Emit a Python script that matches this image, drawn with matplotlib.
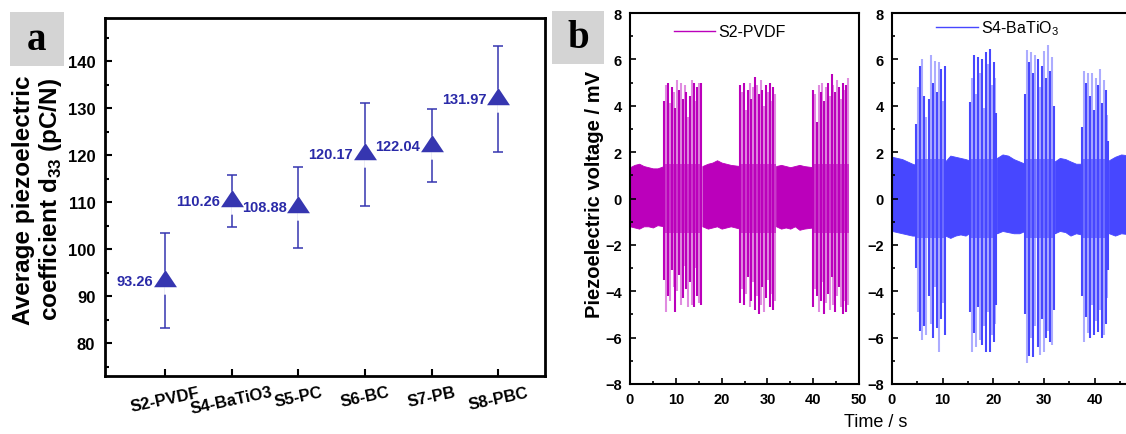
import matplotlib.pyplot as plt
from matplotlib.patches import Rectangle
from matplotlib.ticker import MultipleLocator

plt.rcParams['font.family'] = ['Liberation Sans', 'DejaVu Sans']
plt.rcParams['mathtext.fontset'] = 'custom'
plt.rcParams['mathtext.rm'] = 'Liberation Sans'
plt.rcParams['mathtext.bf'] = 'Liberation Sans:bold'

# ---- panel a: average d33 per sample
samples = ['S2-PVDF', 'S4-BaTiO3', 'S5-PC', 'S6-BC', 'S7-PB', 'S8-PBC']
d33_mean = [93.26, 110.26, 108.88, 120.17, 122.04, 131.97]
d33_err = [10.1, 5.6, 8.7, 11.0, 7.7, 11.2]

# ---- panel b: S2-PVDF voltage trace (quiet envelope + burst spikes)
pvdf_quiet_t = [[0, 1, 2, 3, 4, 5, 6, 7.4],
                [15.8, 17, 18, 19, 20, 21, 22, 24.0],
                [31.9, 33, 34, 35, 36, 37, 38, 39.9]]
pvdf_quiet_top = [[1.35, 1.45, 1.5, 1.4, 1.35, 1.3, 1.3, 1.4],
                  [1.4, 1.5, 1.55, 1.65, 1.55, 1.5, 1.45, 1.4],
                  [1.4, 1.45, 1.4, 1.35, 1.4, 1.45, 1.4, 1.35]]
pvdf_quiet_bot = [[-1.2, -1.25, -1.3, -1.2, -1.2, -1.25, -1.15, -1.2],
                  [-1.2, -1.3, -1.25, -1.2, -1.3, -1.25, -1.2, -1.3],
                  [-1.2, -1.3, -1.25, -1.3, -1.2, -1.35, -1.3, -1.25]]
pvdf_bursts = [(7.4, 15.8), (24.0, 31.9), (39.9, 47.8)]
pvdf_core = 1.5
pvdf_spike_t = [
    [7.5, 7.9, 8.3, 8.7, 9.1, 9.5, 9.9, 10.3, 10.7, 11.1, 11.5, 11.9, 12.3, 12.7,
     13.1, 13.5, 13.9, 14.3, 14.7, 15.1, 15.5],
    [24.1, 24.5, 24.9, 25.3, 25.7, 26.1, 26.5, 26.9, 27.3, 27.7, 28.1, 28.5, 28.9,
     29.3, 29.7, 30.1, 30.5, 30.9, 31.3, 31.7],
    [40.0, 40.4, 40.8, 41.2, 41.6, 42.0, 42.4, 42.8, 43.2, 43.6, 44.0, 44.4, 44.8,
     45.2, 45.6, 46.0, 46.4, 46.8, 47.2, 47.6]]
pvdf_spike_top = [
    [4.2, 4.9, 5.0, 4.1, 4.8, 4.6, 3.9, 5.1, 4.7, 5.0, 4.3, 4.9, 4.6, 3.5, 4.4,
     5.1, 5.0, 4.2, 4.8, 5.0, 5.0],
    [4.9, 4.6, 5.0, 3.8, 4.7, 5.0, 4.3, 4.8, 5.25, 4.9, 4.5, 5.1, 4.7, 4.0, 4.9,
     4.6, 5.0, 4.2, 4.8, 4.5],
    [4.7, 4.5, 3.3, 4.9, 4.6, 5.0, 4.2, 4.8, 5.0, 4.4, 5.35, 4.9, 4.6, 5.1, 4.8,
     4.3, 5.0, 4.7, 4.9, 5.2]]
pvdf_spike_bot = [
    [-3.5, -4.9, -4.2, -4.4, -3.1, -3.8, -4.9, -4.0, -3.3, -4.6, -4.3, -2.9, -3.9,
     -4.7, -3.6, -4.6, -4.7, -3.0, -4.2, -4.5, -4.6],
    [-4.5, -3.9, -4.6, -4.1, -3.4, -4.7, -4.4, -3.6, -4.8, -4.2, -5.0, -4.6, -3.8,
     -4.9, -4.3, -3.5, -4.7, -4.1, -4.8, -4.4],
    [-4.7, -3.9, -4.2, -4.9, -4.4, -3.6, -5.0, -4.5, -4.1, -4.8, -3.4, -4.6, -4.9,
     -4.2, -3.8, -4.7, -5.0, -4.4, -4.9, -4.6]]

# ---- panel b: S4-BaTiO3 voltage trace
bto_quiet_t = [[0, 1, 2, 3, 4, 4.7],
               [10.5, 11.5, 12.5, 13.5, 14.5, 15.2],
               [20.7, 21.8, 22.9, 24.0, 25.1, 26.2],
               [32.1, 33.1, 34.2, 35.2, 36.3, 37.3],
               [42.8, 44.0, 45.2, 47.0]]
bto_quiet_top = [[1.8, 1.75, 1.7, 1.6, 1.5, 1.45],
                 [1.6, 1.85, 1.8, 1.75, 1.7, 1.65],
                 [1.75, 1.9, 1.85, 1.7, 1.6, 1.5],
                 [1.6, 1.75, 1.7, 1.6, 1.5, 1.5],
                 [1.65, 1.8, 1.9, 1.85]]
bto_quiet_bot = [[-1.4, -1.45, -1.5, -1.55, -1.6, -1.6],
                 [-1.6, -1.7, -1.6, -1.55, -1.6, -1.5],
                 [-1.5, -1.4, -1.45, -1.5, -1.5, -1.4],
                 [-1.5, -1.4, -1.45, -1.6, -1.5, -1.55],
                 [-1.5, -1.6, -1.5, -1.55]]
bto_bursts = [(4.7, 10.5), (15.2, 20.7), (26.2, 32.1), (37.3, 42.8)]
bto_core = 1.7
bto_spike_t = [
    [4.8, 5.2, 5.6, 6.0, 6.4, 6.8, 7.2, 7.6, 8.0, 8.4, 8.8, 9.2, 9.6, 10.0, 10.4],
    [15.3, 15.7, 16.1, 16.5, 16.9, 17.3, 17.7, 18.1, 18.5, 18.9, 19.3, 19.7, 20.1,
     20.4, 20.6],
    [26.3, 26.7, 27.1, 27.5, 27.9, 28.3, 28.7, 29.1, 29.5, 29.9, 30.3, 30.7, 31.1,
     31.5, 31.9],
    [37.4, 37.8, 38.2, 38.6, 39.0, 39.4, 39.8, 40.2, 40.6, 41.0, 41.4, 41.8, 42.2,
     42.5, 42.7]]
bto_spike_top = [
    [3.2, 4.8, 5.7, 6.0, 4.4, 3.5, 4.3, 6.2, 5.0, 5.95, 4.6, 5.9, 5.6, 4.2, 5.7],
    [4.15, 5.2, 6.2, 4.5, 6.1, 5.4, 6.0, 3.9, 6.3, 5.8, 6.45, 4.9, 5.9, 5.2, 3.7],
    [4.5, 6.4, 5.9, 6.3, 5.4, 6.2, 6.0, 4.8, 5.7, 6.35, 5.2, 6.6, 5.5, 6.1, 4.0],
    [3.1, 5.5, 5.0, 5.4, 4.4, 5.4, 3.8, 5.2, 4.9, 5.6, 4.1, 5.1, 4.7, 3.6, 2.5]]
bto_spike_bot = [
    [-3.0, -4.9, -5.7, -6.1, -5.5, -5.9, -4.2, -5.4, -6.0, -3.8, -5.6, -6.6, -5.2,
     -4.5, -5.9],
    [-4.9, -6.6, -5.8, -6.4, -4.7, -6.1, -6.3, -5.5, -6.6, -4.9, -6.6, -5.9, -6.2,
     -5.4, -4.6],
    [-5.0, -7.1, -6.8, -6.0, -6.85, -5.5, -6.4, -6.75, -5.2, -6.6, -6.0, -5.7, -6.2,
     -6.3, -4.8],
    [-4.2, -6.2, -5.1, -5.8, -6.0, -4.6, -5.9, -5.3, -5.75, -4.8, -6.0, -5.9, -5.4,
     -4.3, -3.1]]

W, H = 1126, 435
fig = plt.figure(figsize=(W / 100, H / 100), dpi=100)


def px_axes(left, top, right, bottom):
    return fig.add_axes([left / W, 1 - bottom / H, (right - left) / W, (bottom - top) / H])


# ================= panel a =================
ax = px_axes(105, 19, 545, 377)
xs = list(range(1, len(samples) + 1))
blue = '#3636b0'
ax.errorbar(xs, d33_mean, yerr=d33_err, fmt='none', ecolor=blue, elinewidth=1.1,
            capsize=3.3, capthick=1.1, zorder=2)
tri = [(-1, -0.5), (1, -0.5), (0, 1)]
mask = [(-1, -0.5), (-0.12, -0.5), (-0.12, -1.15), (0.12, -1.15), (0.12, -0.5),
        (1, -0.5), (0, 1)]
ax.plot(xs, d33_mean, ls='none', marker=mask, ms=16.5 * 1.15, mfc='white', mec='none',
        zorder=3)
ax.plot(xs, d33_mean, ls='none', marker=tri, ms=16.5, mfc=blue, mec='none', zorder=4)
for x, v in zip(xs, d33_mean):
    ax.annotate(f'{v:.2f}', (x, v), xytext=(-8.5, 0), textcoords='offset points',
                ha='right', va='center', color='#2a2aa8', fontsize=10.5,
                fontweight='bold')

ax.set_xlim(0.1, 6.7)
ax.set_ylim(73, 149.2)
ax.set_xticks(xs)
ax.set_xticklabels(samples, rotation=12, fontsize=12, fontweight='bold')
ax.yaxis.set_minor_locator(MultipleLocator(5))
ax.set_yticks(range(80, 141, 10))
for lab in ax.get_yticklabels():
    lab.set_fontweight('bold')
    lab.set_fontsize(12)
ax.tick_params(which='both', direction='in', width=1.5, top=False, right=False)
ax.tick_params(which='major', length=5, pad=7)
ax.tick_params(which='minor', length=3)
ax.tick_params(axis='x', pad=6)
for sp in ax.spines.values():
    sp.set_linewidth(2)

fig.text(38 / W, 1 - 200 / H, 'Average piezoelectric\ncoefficient d$_{\\mathbf{33}}$ (pC/N)',
         rotation=90, ha='center', va='center', multialignment='center',
         fontsize=17.5, fontweight='bold', linespacing=1.1)

# ================= panel b =================
magenta = '#bb00bb'
bluev = '#4747ff'


def draw_trace(ax, qt, qtop, qbot, bursts, core, st, stop, sbot, color, label):
    for t, top, bot in zip(qt, qtop, qbot):
        ax.fill_between(t, bot, top, color=color, lw=0.6, edgecolor=color)
    for (a, b), ts, tops, bots in zip(bursts, st, stop, sbot):
        ax.fill_between([a, b], [-core, -core], [core, core], color=color, alpha=0.6,
                        lw=0)
        for i, (t, tp, bt) in enumerate(zip(ts, tops, bots)):
            ax.vlines(t, bt, tp, color=color, lw=1.5, alpha=1.0 if i % 2 == 0 else 0.45)
    ax.plot([], [], color=color, lw=1.0, label=label)
    ax.set_xlim(0, 50)
    ax.set_ylim(-8, 8)
    ax.xaxis.set_major_locator(MultipleLocator(10))
    ax.xaxis.set_minor_locator(MultipleLocator(5))
    ax.yaxis.set_major_locator(MultipleLocator(2))
    ax.yaxis.set_minor_locator(MultipleLocator(1))
    ax.tick_params(which='both', direction='in', width=1.2, labelsize=10.5)
    ax.tick_params(which='major', length=4.5, pad=6)
    ax.tick_params(which='minor', length=2.5)
    for lab in ax.get_xticklabels() + ax.get_yticklabels():
        lab.set_fontweight('bold')
    for sp in ax.spines.values():
        sp.set_linewidth(1.5)


b1 = px_axes(630, 14, 859, 385)
draw_trace(b1, pvdf_quiet_t, pvdf_quiet_top, pvdf_quiet_bot, pvdf_bursts, pvdf_core,
           pvdf_spike_t, pvdf_spike_top, pvdf_spike_bot, magenta, 'S2-PVDF')
b1.legend(loc='center left', bbox_to_anchor=(0.19, 0.949), frameon=False, fontsize=11.5,
          handlelength=2.6, handletextpad=0.2, borderpad=0, borderaxespad=0)

b2 = px_axes(892, 14, 892 + 253.5, 385)
draw_trace(b2, bto_quiet_t, bto_quiet_top, bto_quiet_bot, bto_bursts, bto_core,
           bto_spike_t, bto_spike_top, bto_spike_bot, bluev, 'S4-BaTiO$_3$')
# the 50 s label sits beyond the cropped right edge
b2.set_xticks(range(0, 51, 10))
b2.set_xticklabels(['0', '10', '20', '30', '40', ''], fontweight='bold')
b2.legend(loc='center left', bbox_to_anchor=(0.175, 0.96), frameon=False, fontsize=11.5,
          handlelength=2.6, handletextpad=0.2, borderpad=0, borderaxespad=0)

fig.text(595 / W, 1 - 195 / H, 'Piezoelectric voltage / mV', rotation=90, ha='center',
         va='center', fontsize=14.5, fontweight='bold')
fig.text(876 / W, 1 - 423 / H, 'Time / s', ha='center', va='center', fontsize=13)

# panel letters on grey tiles
for (x0, y0, x1, y1), letter in [((10, 13, 64, 67), 'a'), ((552, 12, 604, 65), 'b')]:
    fig.add_artist(Rectangle((x0 / W, 1 - y1 / H), (x1 - x0) / W, (y1 - y0) / H,
                             transform=fig.transFigure, color='#d4d4d4', lw=0))
    fig.text((x0 + x1) / 2 / W, 1 - (y0 + y1) / 2 / H, letter, ha='center', va='center',
             fontsize=28, fontweight='bold', family='Liberation Serif')

fig.savefig('out.png', dpi=100)
